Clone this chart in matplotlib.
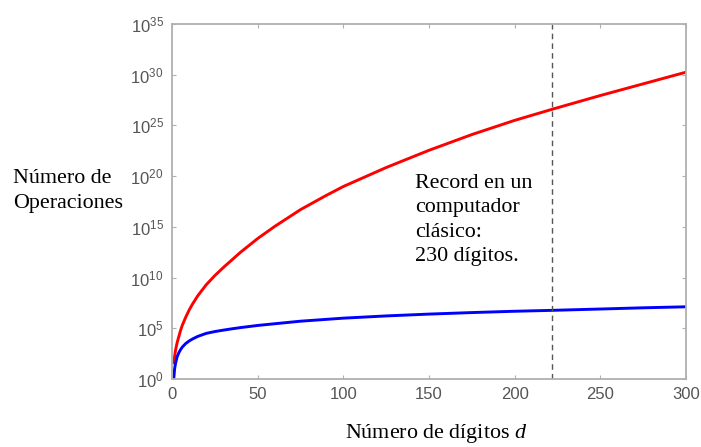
import matplotlib.pyplot as plt
import numpy as np

plt.rcParams['mathtext.fontset'] = 'custom'
plt.rcParams['mathtext.it'] = 'Liberation Serif:italic'
plt.rcParams['mathtext.rm'] = 'Liberation Sans'

# digitos del numero a factorizar
digitos = [1, 1.5, 2, 3, 4, 5, 6, 8, 10, 12, 15, 20, 25, 30, 35, 40, 50, 60, 75, 90,
           100, 125, 150, 175, 200, 222, 250, 275, 300]
# exponentes (log10) del numero de operaciones
exp_clasico = [1.6, 2.2, 2.8, 3.6, 4.2, 4.8, 5.3, 6.1, 6.8, 7.4, 8.2, 9.3, 10.2, 11.0, 11.75,
               12.5, 13.85, 15.05, 16.7, 18.1, 18.98, 20.85, 22.55, 24.1, 25.5, 26.6, 27.95,
               29.1, 30.25]
exp_cuantico = [0.0, 1.0, 1.5, 2.2, 2.6, 2.9, 3.15, 3.5, 3.75, 3.95, 4.2, 4.5, 4.68, 4.82, 4.95,
                5.07, 5.28, 5.45, 5.7, 5.88, 6.0, 6.22, 6.4, 6.55, 6.68, 6.77, 6.9, 7.02, 7.12]
record = 222
ticks_x = [0, 50, 100, 150, 200, 250, 300]
ticks_y = [0, 5, 10, 15, 20, 25, 30, 35]

d = np.array(digitos)
clasico = 10.0 ** np.array(exp_clasico)
cuantico = 10.0 ** np.array(exp_cuantico)

fig = plt.figure(figsize=(7.01, 4.47), dpi=100)
ax = fig.add_axes([0.2454, 0.1521, 0.7332, 0.7942])

ax.plot(d, clasico, color='#ff0000', lw=2.1, solid_joinstyle='round')
ax.plot(d, cuantico, color='#0000ff', lw=2.1, solid_joinstyle='round')
ax.axvline(record, color='#555555', lw=1, ls=(0, (4, 3)))

ax.set_yscale('log')
ax.set_xlim(0, 300)
ax.set_ylim(1, 1e35)
ax.set_xticks(ticks_x)
ax.set_yticks([10.0 ** k for k in ticks_y])
ax.set_yticklabels([r'$\mathregular{10^{%d}}$' % k for k in ticks_y])
ax.minorticks_off()

gris = '#555555'
for s in ax.spines.values():
    s.set_color('#b0b0b0')
    s.set_linewidth(1.3)
ax.tick_params(direction='in', length=3, color='#b0b0b0', labelcolor=gris,
               labelsize=12, top=True, right=True, pad=6)
for lab in ax.get_xticklabels() + ax.get_yticklabels():
    lab.set_family('Liberation Sans')

serif = 'Liberation Serif'
fig.text(0.0185, 0.573, 'Número de\nOperaciones', family=serif, fontsize=15.8,
         ha='left', va='center', linespacing=1.38)
fig.text(0.622, 0.031, 'Número de dígitos $d$', family=serif, fontsize=15.8,
         ha='center', va='center')

fig.text(0.592, 0.508, 'Record en un\ncomputador\nclásico:\n230 dígitos.',
         family=serif, fontsize=15.8, ha='left', va='center',
         linespacing=1.38, zorder=5,
         bbox=dict(facecolor='white', edgecolor='none', pad=4))

fig.savefig('out.png', dpi=100)
